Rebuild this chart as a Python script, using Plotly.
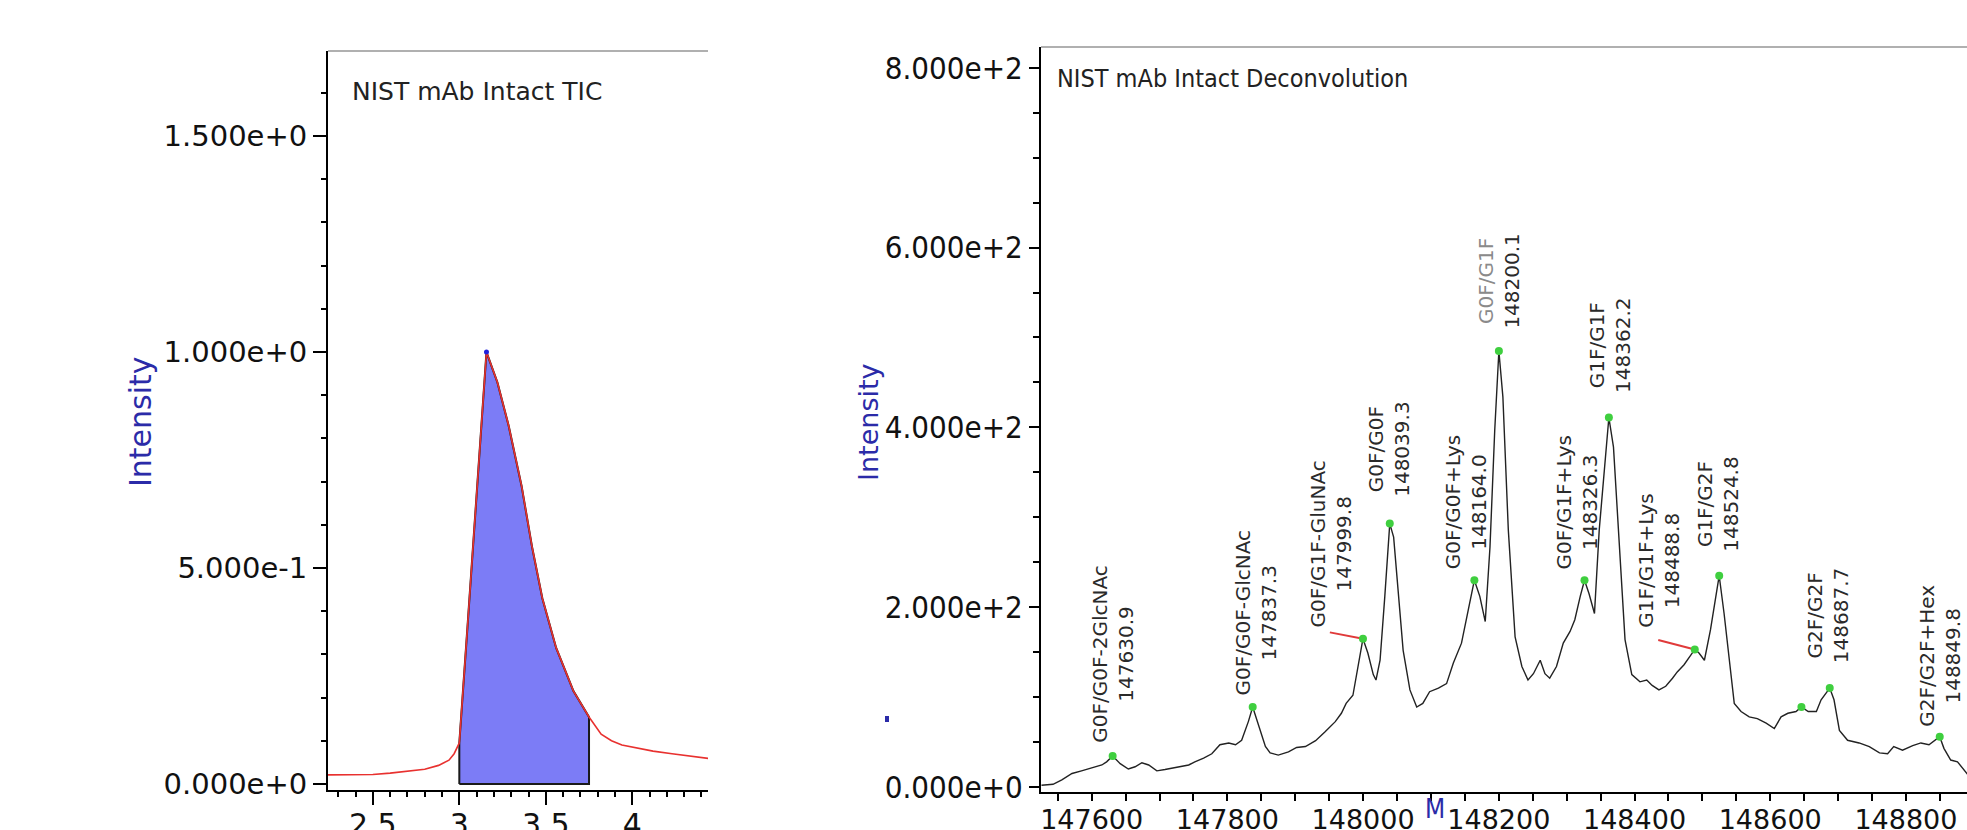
import plotly.graph_objects as go

W, H = 1967, 830

# ---------------- data: TIC chromatogram ----------------
tic_rt = [2.24, 2.40, 2.50, 2.60, 2.70, 2.80, 2.88, 2.94, 2.97, 3.00, 3.05, 3.10, 3.157,
          3.22, 3.285, 3.36, 3.42, 3.48, 3.56, 3.66, 3.75, 3.82, 3.88, 3.94, 4.03, 4.12,
          4.23, 4.33, 4.44]
tic_int = [0.021, 0.021, 0.022, 0.025, 0.029, 0.034, 0.043, 0.055, 0.070, 0.095, 0.38, 0.67, 1.0,
           0.93, 0.83, 0.69, 0.55, 0.43, 0.315, 0.215, 0.155, 0.115, 0.100, 0.090, 0.083, 0.076,
           0.070, 0.064, 0.059]
tic_window = [3.00, 3.75]
tic_apex = 3.157
tic_yticks = [0.0, 0.5, 1.0, 1.5]

# ---------------- data: deconvoluted spectrum ----------------
mass = [147526, 147543, 147556, 147571, 147585, 147600, 147615, 147622, 147630.9, 147642,
        147654, 147664, 147674, 147684, 147696, 147708, 147728, 147743, 147752, 147765,
        147777, 147789, 147802, 147812, 147821, 147831, 147837.3, 147848, 147856, 147863,
        147875, 147890, 147902, 147915, 147930, 147944, 147959, 147968, 147975, 147985,
        147990, 147995, 147999.8, 148007, 148015, 148019, 148025, 148032, 148039.3, 148045,
        148052, 148059, 148069, 148079, 148088, 148098, 148111, 148123, 148133, 148145,
        148155, 148164.0, 148172, 148180, 148187, 148194, 148200.1, 148206, 148214, 148224,
        148234, 148243, 148251, 148261, 148268, 148275, 148285, 148295, 148305, 148312,
        148320, 148326.3, 148333, 148341, 148348, 148356, 148362.2, 148369, 148376, 148386,
        148396, 148408, 148418, 148426, 148436, 148446, 148456, 148463, 148473, 148480,
        148488.8, 148495, 148503, 148512, 148524.8, 148532, 148540, 148547, 148557, 148569,
        148581, 148594, 148606, 148616, 148626, 148638, 148646, 148656, 148668, 148675,
        148687.7, 148694, 148702, 148714, 148731, 148746, 148761, 148773, 148782, 148795,
        148810, 148822, 148834, 148849.8, 148856, 148866, 148876, 148887, 148892]
intensity = [2, 3, 8, 15, 18, 21, 24.5, 28, 34.5, 26,
             20, 22.5, 27, 24.5, 18, 19.5, 22, 24.5, 28, 32,
             37, 47, 49, 47, 52, 73, 89, 63, 45, 38,
             35.5, 39, 44, 45, 51.5, 61.5, 72.7, 82, 93, 102,
             123, 145, 165, 149, 125, 119, 141, 212, 293, 278,
             212, 152, 108, 89, 93, 106, 110, 115, 138, 160,
             197, 230, 212, 184, 267, 397, 485, 434, 286, 167,
             134, 119, 126, 141, 126, 121, 134, 160, 173, 186,
             212, 230, 215, 193, 286, 360, 411, 378, 286, 164,
             125, 117, 119, 113, 108, 112, 121, 128, 136, 143,
             153, 149, 141, 175, 235, 193, 138, 93, 84, 78,
             76, 71, 65, 78, 82, 84, 89, 84, 84, 97,
             110, 97, 63, 52, 49, 45, 38, 37, 45, 41,
             46, 49, 47, 56, 43, 30, 28, 17, 13]

peak_mass = [147630.9, 147837.3, 147999.8, 148039.3, 148164.0, 148200.1, 148326.3,
             148362.2, 148488.8, 148524.8, 148646, 148687.7, 148849.8]
peak_name = ["G0F/G0F-2GlcNAc", "G0F/G0F-GlcNAc", "G0F/G1F-GluNAc", "G0F/G0F",
             "G0F/G0F+Lys", "G0F/G1F", "G0F/G1F+Lys", "G1F/G1F", "G1F/G1F+Lys",
             "G1F/G2F", "", "G2F/G2F", "G2F/G2F+Hex"]

# label placement (layout): x centre, bottom, and optional leader start
label_pos = {
    147630.9: (147632, 47, None),
    147837.3: (147842, 100, None),
    147999.8: (147953, 175, (147951, 172)),
    148039.3: (148038, 321, None),
    148164.0: (148151, 240, None),
    148200.1: (148200, 508, None),
    148326.3: (148315, 240, None),
    148362.2: (148363, 436, None),
    148488.8: (148437, 175, (148435, 163.5)),
    148524.8: (148523, 260, None),
    148687.7: (148685, 136, None),
    148849.8: (148849, 65, None),
}

peak_int = [intensity[mass.index(m)] for m in peak_mass]


def sci(v):
    if v == 0:
        return "0.000e+0"
    e = 0
    a = abs(v)
    while a >= 10:
        a /= 10
        e += 1
    while a < 1:
        a *= 10
        e -= 1
    return f"{a:.3f}e{'+' if e >= 0 else '-'}{abs(e)}"


# ---------------- geometry helpers ----------------
def px(x):
    return x / W


def py(y):
    return (H - y) / H


BLUE = "#2b2ba8"
FONT = "DejaVu Sans"
FONT_C = "DejaVu Sans Condensed"

fig = go.Figure()

# TIC integration window fill
win_x = [r for r in tic_rt if tic_window[0] <= r <= tic_window[1]]
win_y = [tic_int[tic_rt.index(r)] for r in win_x]
fig.add_trace(go.Scatter(
    x=[win_x[0]] + win_x + [win_x[-1], win_x[0]],
    y=[0] + win_y + [0, 0],
    mode="lines", fill="toself", fillcolor="rgb(124,124,246)",
    line=dict(color="#1a1a1a", width=2), xaxis="x", yaxis="y", hoverinfo="skip"))
fig.add_trace(go.Scatter(x=tic_rt, y=tic_int, mode="lines",
                         line=dict(color="#e8312f", width=1.6), xaxis="x", yaxis="y"))
fig.add_trace(go.Scatter(x=[tic_apex], y=[tic_int[tic_rt.index(tic_apex)]], mode="markers",
                         marker=dict(color="#2222dd", size=5), xaxis="x", yaxis="y"))

# Deconvolution spectrum
fig.add_trace(go.Scatter(x=mass, y=intensity, mode="lines",
                         line=dict(color="#222222", width=1.4), xaxis="x2", yaxis="y2"))

for m in peak_mass:
    if m in label_pos and label_pos[m][2] is not None:
        lx, ly = label_pos[m][2]
        fig.add_trace(go.Scatter(x=[lx, m], y=[ly, intensity[mass.index(m)]], mode="lines",
                                 line=dict(color="#e03a3a", width=2), xaxis="x2", yaxis="y2"))

fig.add_trace(go.Scatter(x=peak_mass, y=peak_int, mode="markers",
                         marker=dict(color="#3fcf3f", size=8), xaxis="x2", yaxis="y2"))

annotations = []
for m, name in zip(peak_mass, peak_name):
    if not name:
        continue
    lx, ly, _ = label_pos[m]
    color_name = "#8a8a8a" if name == "G0F/G1F" else "#2a2a2a"
    annotations.append(dict(
        x=lx, y=ly, xref="x2", yref="y2", xanchor="center", yanchor="bottom",
        text=f"<span style='color:{color_name}'>{name}</span><br>{m:.1f}",
        textangle=-90, showarrow=False,
        font=dict(family=FONT, size=20, color="#2a2a2a")))

annotations += [
    dict(x=px(350), y=py(91), xref="paper", yref="paper", xanchor="left", yanchor="middle",
         text="NIST mAb Intact TIC", showarrow=False,
         font=dict(family=FONT, size=25, color="#222")),
    dict(x=px(1055), y=py(78), xref="paper", yref="paper", xanchor="left", yanchor="middle",
         text="NIST mAb Intact Deconvolution", showarrow=False,
         font=dict(family=FONT_C, size=25, color="#222")),
    dict(x=px(141), y=py(422), xref="paper", yref="paper", xanchor="center", yanchor="middle",
         text="Intensity", textangle=-90, showarrow=False,
         font=dict(family=FONT, size=30, color=BLUE)),
    dict(x=px(869), y=py(422), xref="paper", yref="paper", xanchor="center", yanchor="middle",
         text="Intensity", textangle=-90, showarrow=False,
         font=dict(family=FONT, size=27, color=BLUE)),
    dict(x=px(1435), y=py(809), xref="paper", yref="paper", xanchor="center", yanchor="middle",
         text="M", showarrow=False,
         font=dict(family=FONT_C, size=26, color=BLUE)),
]

axis_common = dict(showgrid=False, zeroline=False, showline=True, linecolor="black",
                   linewidth=2, ticks="outside", tickcolor="black", tickwidth=2,
                   automargin=False)

fig.update_layout(
    width=W, height=H, margin=dict(l=0, r=0, t=0, b=0, autoexpand=False),
    paper_bgcolor="white", plot_bgcolor="white", showlegend=False,
    xaxis=dict(**axis_common, domain=[px(328), px(708)], range=[2.2406, 4.438],
               anchor="y", tickmode="linear", tick0=0, dtick=0.5, ticklen=13,
               ticklabelstandoff=-6,
               tickfont=dict(family=FONT, size=30, color="#111"),
               minor=dict(ticks="outside", ticklen=5, tickwidth=1.5, tickcolor="black",
                          tickmode="linear", tick0=0, dtick=0.1, showgrid=False)),
    yaxis=dict(**axis_common, domain=[py(790), py(51)], range=[-0.014, 1.697],
               anchor="x", tickmode="array", tickvals=tic_yticks,
               ticktext=[sci(v) for v in tic_yticks],
               ticklen=13, tickfont=dict(family=FONT, size=29, color="#111"),
               minor=dict(ticks="outside", ticklen=5, tickwidth=1.5, tickcolor="black",
                          tickmode="linear", tick0=0, dtick=0.1, showgrid=False)),
    xaxis2=dict(**axis_common, domain=[px(1041), 1.0], range=[147525.3, 148890],
                anchor="y2", tickmode="linear", tick0=147600, dtick=200, tickformat="d",
                ticklen=7, ticklabelstandoff=-4,
                tickfont=dict(family=FONT, size=27, color="#111"),
                minor=dict(ticks="outside", ticklen=7, tickwidth=1.5, tickcolor="black",
                           tickmode="linear", tick0=147600, dtick=50, showgrid=False)),
    yaxis2=dict(**axis_common, domain=[py(792), py(47)], range=[-5.56, 823.1],
                anchor="x2", tickmode="linear", tick0=0, dtick=200, tickformat=".3e",
                ticklen=10, tickfont=dict(family=FONT_C, size=31, color="#111"),
                minor=dict(ticks="outside", ticklen=6, tickwidth=1.5, tickcolor="black",
                           tickmode="linear", tick0=0, dtick=50, showgrid=False)),
    annotations=annotations,
    shapes=[
        dict(type="line", xref="x domain", yref="y domain", x0=0, x1=1, y0=1, y1=1,
             line=dict(color="#b0b0b0", width=2)),
        dict(type="line", xref="x2 domain", yref="y2 domain", x0=0, x1=1, y0=1, y1=1,
             line=dict(color="#b0b0b0", width=2)),
        dict(type="rect", xref="paper", yref="paper", x0=px(885), x1=px(889), y0=py(722),
             y1=py(716), line=dict(width=0), fillcolor=BLUE),
    ],
)

fig.write_html("out.html")
